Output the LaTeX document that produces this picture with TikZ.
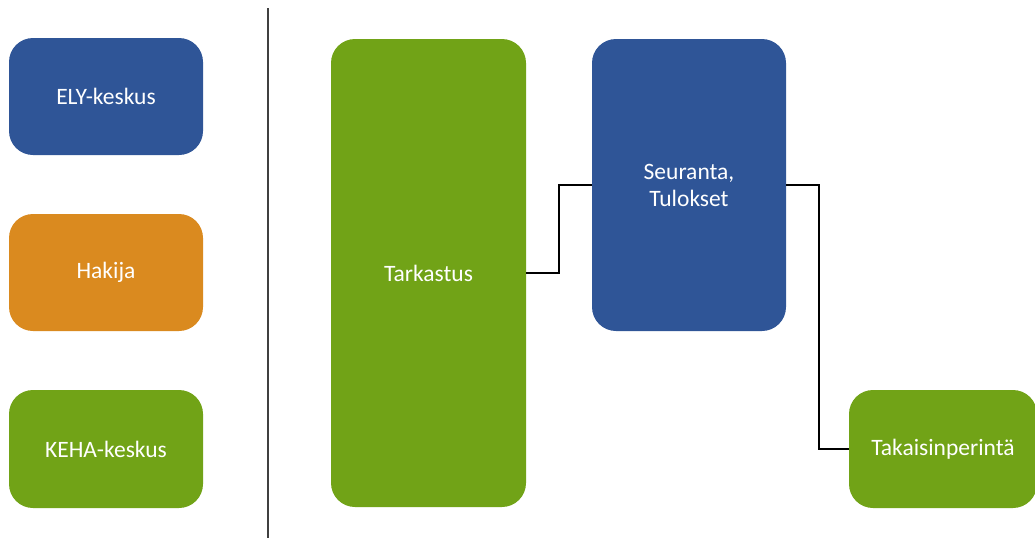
\documentclass[tikz,border=0pt]{standalone}
\usepackage{fontspec}
\setmainfont{Carlito}
\definecolor{elyblue}{HTML}{2F5597}
\definecolor{hakorange}{HTML}{DA8A1F}
\definecolor{kehagreen}{HTML}{71A317}
\begin{document}
\begin{tikzpicture}[x=1pt,y=1pt,
  box/.style={rectangle,rounded corners=24pt,inner sep=0pt,text=white,
    font=\fontsize{23.5}{27}\selectfont,align=center},
  conn/.style={draw=black,line width=1.8pt}]
\useasboundingbox (0,0) rectangle (1035,-538);
\node[box,fill=elyblue,minimum width=194pt,minimum height=117pt] (ely) at (106,-96.5) {ELY-keskus};
\node[box,fill=hakorange,minimum width=194pt,minimum height=117pt] (hak) at (106,-272.5) {Hakija};
\node[box,fill=kehagreen,minimum width=194pt,minimum height=118pt] (keha) at (106,-449) {KEHA-keskus};
\coordinate (ltop) at (268,-8);
\coordinate (lbot) at (268,-538);
\draw[draw=black!75,line width=1.8pt] (ltop) -- (lbot);
\node[box,fill=kehagreen,minimum width=195pt,minimum height=468pt] (tark) at (428.5,-273) {Tarkastus};
\node[box,fill=elyblue,minimum width=194pt,minimum height=292pt] (seur) at (689,-185) {Seuranta,\\Tulokset};
\node[box,fill=kehagreen,minimum width=188pt,minimum height=118pt] (taka) at (943,-449) {Takaisinperintä};
\draw[conn] (tark.east) -- ++(33,0) |- (seur.west);
\draw[conn] (seur.east) -- ++(33,0) |- (taka.west);
\end{tikzpicture}
\end{document}
